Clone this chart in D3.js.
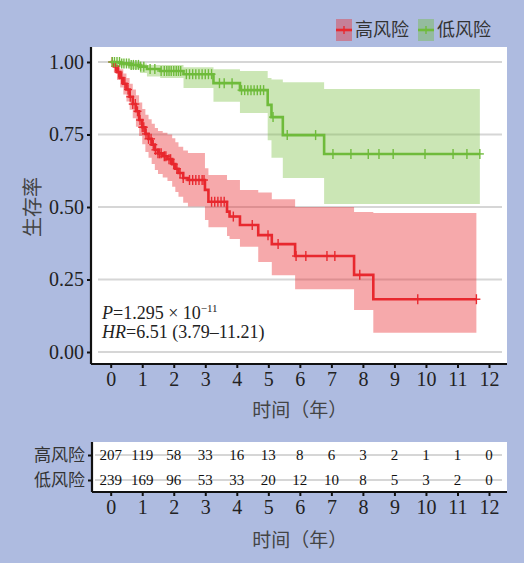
<!DOCTYPE html>
<html>
<head>
<meta charset="utf-8">
<script src="https://cdn.jsdelivr.net/npm/d3@7"></script>
<style>
  html, body { margin: 0; padding: 0; background: #aebbe0; }
  svg { display: block; }
</style>
</head>
<body>
<svg id="chart" width="524" height="563"></svg>
<script>
// Follow-up years shown on the time axes
const yearTicks = [0, 1, 2, 3, 4, 5, 6, 7, 8, 9, 10, 11, 12];
const survTicks = [0, 0.25, 0.5, 0.75, 1];
const groupNames = ["高风险", "低风险"];

// Number at risk per year
const atRiskHigh = [207, 119, 58, 33, 16, 13, 8, 6, 3, 2, 1, 1, 0];
const atRiskLow = [239, 169, 96, 53, 33, 20, 12, 10, 8, 5, 3, 2, 0];

// High-risk group: Kaplan–Meier steps with 95% CI
const highTime  = [0, 0.1, 0.2, 0.3, 0.4, 0.5, 0.6, 0.7, 0.8, 0.9, 1.0, 1.1, 1.2, 1.3, 1.4, 1.5, 1.65, 1.8, 1.95, 2.05, 2.15, 2.3, 2.45, 2.99, 3.1, 3.69, 3.77, 4.1, 4.68, 5.11, 5.85, 7.72, 8.33, 11.6];
const highSurv  = [1.0, 0.985, 0.965, 0.945, 0.925, 0.905, 0.88, 0.855, 0.83, 0.80, 0.775, 0.752, 0.735, 0.715, 0.697, 0.685, 0.675, 0.665, 0.648, 0.632, 0.617, 0.60, 0.593, 0.559, 0.518, 0.484, 0.467, 0.438, 0.403, 0.372, 0.331, 0.266, 0.182, 0.182];
const highLower = [1.0, 0.965, 0.938, 0.912, 0.888, 0.864, 0.835, 0.806, 0.777, 0.745, 0.716, 0.69, 0.67, 0.648, 0.628, 0.614, 0.602, 0.59, 0.57, 0.552, 0.535, 0.515, 0.502, 0.455, 0.43, 0.40, 0.39, 0.363, 0.31, 0.265, 0.216, 0.145, 0.066, 0.066];
const highUpper = [1.0, 1.0, 0.99, 0.975, 0.96, 0.945, 0.925, 0.905, 0.885, 0.86, 0.838, 0.818, 0.803, 0.787, 0.772, 0.762, 0.756, 0.75, 0.737, 0.723, 0.708, 0.695, 0.686, 0.634, 0.61, 0.593, 0.593, 0.559, 0.55, 0.527, 0.50, 0.483, 0.479, 0.479];
const highCensor = [0.05, 0.15, 0.25, 0.35, 0.45, 0.55, 0.62, 0.7, 0.78, 0.85, 0.93, 1.0, 1.05, 1.12, 1.2, 1.28, 1.35, 1.42, 1.5, 1.55, 1.6, 1.7, 1.75, 1.85, 1.9, 2.0, 2.1, 2.2, 2.3, 2.5, 2.6, 2.7, 2.8, 2.9, 2.96, 3.2, 3.3, 3.4, 3.5, 3.6, 3.89, 4.49, 4.99, 5.31, 5.88, 6.19, 6.86, 7.11, 7.9, 9.74, 11.6];

// Low-risk group: Kaplan–Meier steps with 95% CI
const lowTime  = [0, 0.3, 0.6, 0.93, 1.15, 1.57, 2.31, 3.26, 4.1, 4.98, 5.1, 5.46, 6.77, 11.71];
const lowSurv  = [1.0, 0.995, 0.99, 0.984, 0.976, 0.969, 0.958, 0.927, 0.903, 0.852, 0.81, 0.748, 0.683, 0.683];
const lowLower = [1.0, 0.985, 0.975, 0.962, 0.95, 0.945, 0.91, 0.863, 0.824, 0.73, 0.67, 0.60, 0.51, 0.51];
const lowUpper = [1.0, 1.0, 1.0, 0.995, 0.99, 0.99, 0.982, 0.975, 0.969, 0.945, 0.94, 0.93, 0.907, 0.907];
const lowCensor = [0.05, 0.12, 0.2, 0.28, 0.35, 0.42, 0.5, 0.58, 0.65, 0.72, 0.8, 0.88, 0.95, 1.05, 1.25, 1.4, 1.6, 1.7, 1.78, 1.85, 1.92, 2.0, 2.08, 2.15, 2.22, 2.4, 2.5, 2.6, 2.7, 2.8, 2.9, 3.0, 3.1, 3.2, 3.45, 3.6, 3.85, 4.15, 4.25, 4.35, 4.45, 4.55, 4.65, 4.75, 4.85, 5.15, 5.6, 6.5, 7.05, 7.62, 8.17, 8.51, 8.96, 9.97, 10.86, 11.3, 11.71];

const colors = {
  high: "#e8282e", highBand: "#e8282e",
  low: "#6fbb3b", lowBand: "#7cc045"
};

const serif = "'Liberation Serif', 'Times New Roman', serif";
const cjk = "'Noto Sans CJK SC', sans-serif";

const svg = d3.select("#chart");

// ---- main survival panel ----
const panel = { left: 91, right: 507, top: 47, bottom: 364 };
const x = d3.scaleLinear().domain([0, 12]).range([110.7, 489]);
const y = d3.scaleLinear().domain([0, 1]).range([352, 62]);

svg.append("rect")
  .attr("x", panel.left).attr("y", panel.top)
  .attr("width", panel.right - panel.left).attr("height", panel.bottom - panel.top)
  .attr("fill", "#fff");

svg.append("g").selectAll("line").data(survTicks).join("line")
  .attr("x1", 98).attr("x2", 502)
  .attr("y1", d => y(d)).attr("y2", d => y(d))
  .attr("stroke", "#d6d6d6").attr("stroke-width", 2);

function rows(t, s, lo, hi) {
  return t.map((d, i) => ({ t: d, s: s[i], lo: lo[i], hi: hi[i] }));
}
const highRows = rows(highTime, highSurv, highLower, highUpper);
const lowRows = rows(lowTime, lowSurv, lowLower, lowUpper);

const band = d3.area().curve(d3.curveStepAfter)
  .x(d => x(d.t)).y0(d => y(d.lo)).y1(d => y(d.hi));
const line = d3.line().curve(d3.curveStepAfter)
  .x(d => x(d.t)).y(d => y(d.s));

svg.append("path").datum(highRows).attr("d", band)
  .attr("fill", colors.highBand).attr("fill-opacity", 0.4);
svg.append("path").datum(lowRows).attr("d", band)
  .attr("fill", colors.lowBand).attr("fill-opacity", 0.4);

function survAt(rowsArr, t) {
  let v = rowsArr[0].s;
  for (const r of rowsArr) { if (r.t <= t) v = r.s; else break; }
  return v;
}

function drawCurve(rowsArr, censor, color) {
  svg.append("path").datum(rowsArr).attr("d", line)
    .attr("fill", "none").attr("stroke", color).attr("stroke-width", 2.6);
  const g = svg.append("g").attr("stroke", color).attr("stroke-width", 1.4);
  censor.forEach(t => {
    const cx = x(t), cy = y(survAt(rowsArr, t));
    g.append("line").attr("x1", cx).attr("x2", cx).attr("y1", cy - 5).attr("y2", cy + 5);
    g.append("line").attr("x1", cx - 4).attr("x2", cx + 4).attr("y1", cy).attr("y2", cy);
  });
}
drawCurve(highRows, highCensor, colors.high);
drawCurve(lowRows, lowCensor, colors.low);

// axes
const yAxis = d3.axisLeft(y).tickValues(survTicks).tickFormat(d3.format(".2f")).tickSize(4).tickPadding(3);
const gy = svg.append("g").attr("transform", `translate(${panel.left},0)`).call(yAxis);
gy.select(".domain").attr("d", `M0,${panel.top}V${panel.bottom}`);
const xAxis = d3.axisBottom(x).tickValues(yearTicks).tickSize(4).tickPadding(4);
const gx = svg.append("g").attr("transform", `translate(0,${panel.bottom})`).call(xAxis);
gx.select(".domain").attr("d", `M${panel.left},0H${panel.right}`);

[gy, gx].forEach(g => {
  g.select(".domain").attr("stroke", "#111").attr("stroke-width", 2.2);
  g.selectAll(".tick line").attr("stroke", "#111").attr("stroke-width", 2);
  g.selectAll(".tick text").attr("fill", "#222").style("font-family", serif).style("font-size", "20px");
});

svg.append("text")
  .attr("transform", `translate(40,207) rotate(-90)`)
  .attr("text-anchor", "middle")
  .style("font-family", cjk).style("font-size", "20px").attr("fill", "#444")
  .text("生存率");

svg.append("text")
  .attr("x", (x(0) + x(12)) / 2).attr("y", 417)
  .attr("text-anchor", "middle")
  .style("font-family", cjk).style("font-size", "19px").attr("fill", "#444")
  .text("时间（年）");

// statistics annotation
const stat = svg.append("g").style("font-family", serif).style("font-size", "18px").attr("fill", "#222");
const p = stat.append("text").attr("x", 102).attr("y", 319);
p.append("tspan").style("font-style", "italic").text("P");
p.append("tspan").text("=1.295 × 10");
p.append("tspan").attr("dy", -7).style("font-size", "11px").text("−11");
const hr = stat.append("text").attr("x", 102).attr("y", 338);
hr.append("tspan").style("font-style", "italic").text("HR");
hr.append("tspan").text("=6.51 (3.79–11.21)");

// legend
const legend = svg.append("g");
[{ name: groupNames[0], c: colors.high, x0: 336 }, { name: groupNames[1], c: colors.low, x0: 418 }].forEach(d => {
  legend.append("rect").attr("x", d.x0).attr("y", 19).attr("width", 16).attr("height", 22)
    .attr("fill", d.c).attr("fill-opacity", 0.4);
  legend.append("line").attr("x1", d.x0).attr("x2", d.x0 + 16).attr("y1", 30).attr("y2", 30)
    .attr("stroke", d.c).attr("stroke-width", 2.6);
  legend.append("line").attr("x1", d.x0 + 8).attr("x2", d.x0 + 8).attr("y1", 26).attr("y2", 34)
    .attr("stroke", d.c).attr("stroke-width", 1.4);
  legend.append("text").attr("x", d.x0 + 19).attr("y", 30).attr("dy", "0.35em")
    .style("font-family", cjk).style("font-size", "18px").attr("fill", "#333")
    .text(d.name);
});

// ---- number-at-risk table ----
const table = { left: 92, right: 507, top: 442, bottom: 492 };
const rowY = d3.scalePoint().domain(groupNames).range([455, 480]);

svg.append("rect")
  .attr("x", table.left).attr("y", table.top)
  .attr("width", table.right - table.left).attr("height", table.bottom - table.top)
  .attr("fill", "#fff");

svg.append("g").selectAll("line").data(groupNames).join("line")
  .attr("x1", 95).attr("x2", 502)
  .attr("y1", d => rowY(d)).attr("y2", d => rowY(d))
  .attr("stroke", "#d6d6d6").attr("stroke-width", 2);

const riskRows = [
  { name: groupNames[0], vals: atRiskHigh },
  { name: groupNames[1], vals: atRiskLow }
];
riskRows.forEach(r => {
  svg.append("g").selectAll("text").data(r.vals).join("text")
    .attr("x", (d, i) => x(yearTicks[i]))
    .attr("y", rowY(r.name)).attr("dy", "0.35em")
    .attr("text-anchor", "middle")
    .style("font-family", serif).style("font-size", "15px").attr("fill", "#111")
    .text(d => d);
});

const tyAxis = d3.axisLeft(rowY).tickSize(4).tickPadding(3);
const gty = svg.append("g").attr("transform", `translate(${table.left},0)`).call(tyAxis);
gty.select(".domain").attr("d", `M0,${table.top}V${table.bottom}`);
gty.selectAll(".tick text").style("font-family", cjk).style("font-size", "17px").attr("fill", "#333");

const txAxis = d3.axisBottom(x).tickValues(yearTicks).tickSize(4).tickPadding(4);
const gtx = svg.append("g").attr("transform", `translate(0,${table.bottom})`).call(txAxis);
gtx.select(".domain").attr("d", `M${table.left},0H${table.right}`);
gtx.selectAll(".tick text").style("font-family", serif).style("font-size", "20px").attr("fill", "#222");

[gty, gtx].forEach(g => {
  g.select(".domain").attr("stroke", "#111").attr("stroke-width", 2.2);
  g.selectAll(".tick line").attr("stroke", "#111").attr("stroke-width", 2);
});

svg.append("text")
  .attr("x", (x(0) + x(12)) / 2).attr("y", 547)
  .attr("text-anchor", "middle")
  .style("font-family", cjk).style("font-size", "19px").attr("fill", "#444")
  .text("时间（年）");
</script>
</body>
</html>
